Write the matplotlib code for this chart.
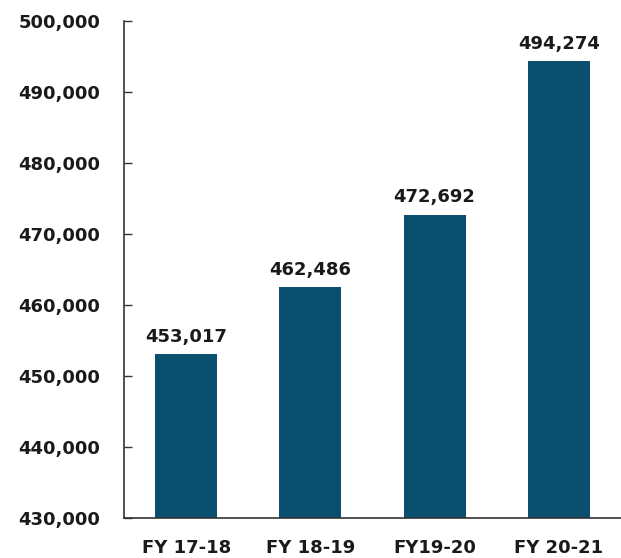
import matplotlib
matplotlib.use("Agg")
import matplotlib.pyplot as plt
from matplotlib.ticker import FuncFormatter

categories = ["FY 17-18", "FY 18-19", "FY19-20", "FY 20-21"]
values = [453017, 462486, 472692, 494274]
yticks = [430000, 440000, 450000, 460000, 470000, 480000, 490000, 500000]

plt.rcParams['font.family'] = ['DejaVu Sans']
fig = plt.figure(figsize=(6.21, 5.58), dpi=100)
ax = fig.add_axes([124/621, 1 - 517.7/558, 1 - 124/621, (517.7 - 20.7)/558])

x = list(range(len(categories)))
bars = ax.bar(x, values, width=0.5, color="#0b4f6e")
ax.set_xlim(-0.5, 3.5)
ax.set_ylim(430000, 500000)
ax.set_yticks(yticks)
ax.yaxis.set_major_formatter(FuncFormatter(lambda v, p: f"{int(v):,}"))
ax.set_xticks(x)
ax.set_xticklabels(categories)

for s in ["top", "right"]:
    ax.spines[s].set_visible(False)
for s in ["left", "bottom"]:
    ax.spines[s].set_color("#333333")
    ax.spines[s].set_linewidth(1.2)

ax.tick_params(axis="y", direction="in", length=6, width=1, color="#333333",
               pad=17, labelsize=13, labelcolor="#1a1a1a")
ax.tick_params(axis="x", length=0, pad=15, labelsize=13, labelcolor="#1a1a1a")
for lab in ax.get_xticklabels() + ax.get_yticklabels():
    lab.set_fontweight("bold")

for xi, v in zip(x, values):
    ax.annotate(f"{v:,}", xy=(xi, v), xytext=(0, 6), textcoords="offset points",
                ha="center", va="bottom", fontsize=13, fontweight="bold", color="#1a1a1a")

fig.savefig("out.png", dpi=100)
